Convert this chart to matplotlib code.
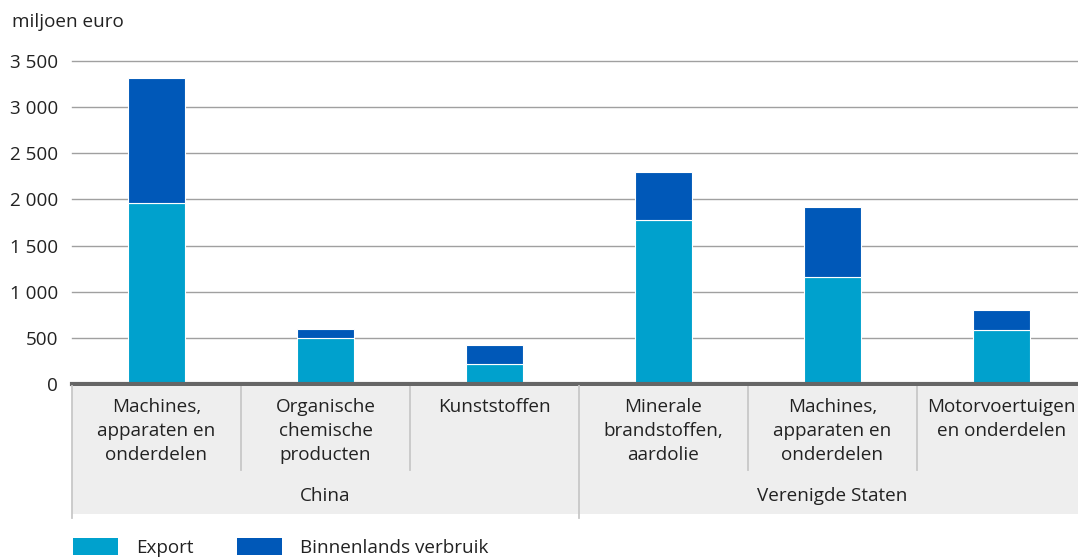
import matplotlib
matplotlib.use("Agg")
import matplotlib.pyplot as plt
from matplotlib.patches import Patch

plt.rcParams['font.family'] = ['Open Sans', 'DejaVu Sans']

categories = [
    "Machines,\napparaten en\nonderdelen",
    "Organische\nchemische\nproducten",
    "Kunststoffen",
    "Minerale\nbrandstoffen,\naardolie",
    "Machines,\napparaten en\nonderdelen",
    "Motorvoertuigen\nen onderdelen",
]
groups = ["China", "Verenigde Staten"]
group_sizes = [3, 3]
export = [1960, 495, 213, 1775, 1155, 590]
binnenlands = [1360, 97, 205, 520, 765, 210]
yticks = [0, 500, 1000, 1500, 2000, 2500, 3000, 3500]
ytick_labels = ["0", "500", "1 000", "1 500", "2 000", "2 500", "3 000", "3 500"]
unit_label = "miljoen euro"
legend_labels = ["Export", "Binnenlands verbruik"]

c_export = "#00a1cd"
c_binn = "#0058b8"
text_c = "#222222"
FS = 13.6

W, H = 1078, 557
fig = plt.figure(figsize=(W / 100, H / 100), dpi=100)

def fx(px):
    return px / W

def fy(py):
    return 1 - py / H

ax_left, ax_right = 72, 1086
ax = fig.add_axes([fx(ax_left), fy(384), fx(ax_right - ax_left), fy(61) - fy(384)])
x = list(range(len(categories)))
ax.bar(x, export, width=0.34, color=c_export, edgecolor="white", linewidth=0.8, zorder=3)
ax.bar(x, binnenlands, bottom=export, width=0.34, color=c_binn, edgecolor="white",
       linewidth=0.8, zorder=3)
ax.set_xlim(-0.5, len(categories) - 0.5)
ax.set_ylim(0, 3500)
for t in yticks[1:]:
    ax.axhline(t, color="#a0a0a0", lw=1.0, zorder=1, clip_on=False)
ax.axhline(0, color="#666666", lw=3, zorder=4, clip_on=False)
ax.set_yticks(yticks)
ax.set_yticklabels(ytick_labels, fontsize=FS, color=text_c)
ax.tick_params(axis="y", length=0, pad=10)
ax.set_xticks([])
for s in ax.spines.values():
    s.set_visible(False)

# category label area
ax2 = fig.add_axes([fx(ax_left), fy(514), fx(ax_right - ax_left), fy(386) - fy(514)])
ax2.set_facecolor("#eeeeee")
ax2.set_xlim(ax.get_xlim())
ax2.set_ylim(0, 1)
ax2.set_xticks([])
ax2.set_yticks([])
for s in ax2.spines.values():
    s.set_visible(False)
for i, lab in enumerate(categories):
    ax2.text(i, 0.91, lab, ha="center", va="top", fontsize=FS, color=text_c,
             linespacing=1.45)
start = 0
for g, n in zip(groups, group_sizes):
    ax2.text(start + (n - 1) / 2, 0.14, g, ha="center", va="center", fontsize=FS,
             color=text_c)
    ax2.axvline(start - 0.5, ymin=-0.03, ymax=1, color="#c8c8c8", lw=1.3, clip_on=False)
    for k in range(1, n):
        ax2.axvline(start + k - 0.5, ymin=0.34, ymax=1, color="#c8c8c8", lw=1.3)
    start += n

fig.text(fx(12), fy(22), unit_label, fontsize=FS, color=text_c, va="center", ha="left")

handles = [Patch(facecolor=c_export), Patch(facecolor=c_binn)]
fig.legend(handles, legend_labels, loc="upper left", bbox_to_anchor=(fx(73), fy(538)),
           ncol=2, frameon=False, fontsize=FS, handlelength=2.38, handleheight=1.0,
           handletextpad=0.95, columnspacing=2.3, borderpad=0, borderaxespad=0,
           labelcolor=text_c)

fig.savefig("out.png", dpi=100)
